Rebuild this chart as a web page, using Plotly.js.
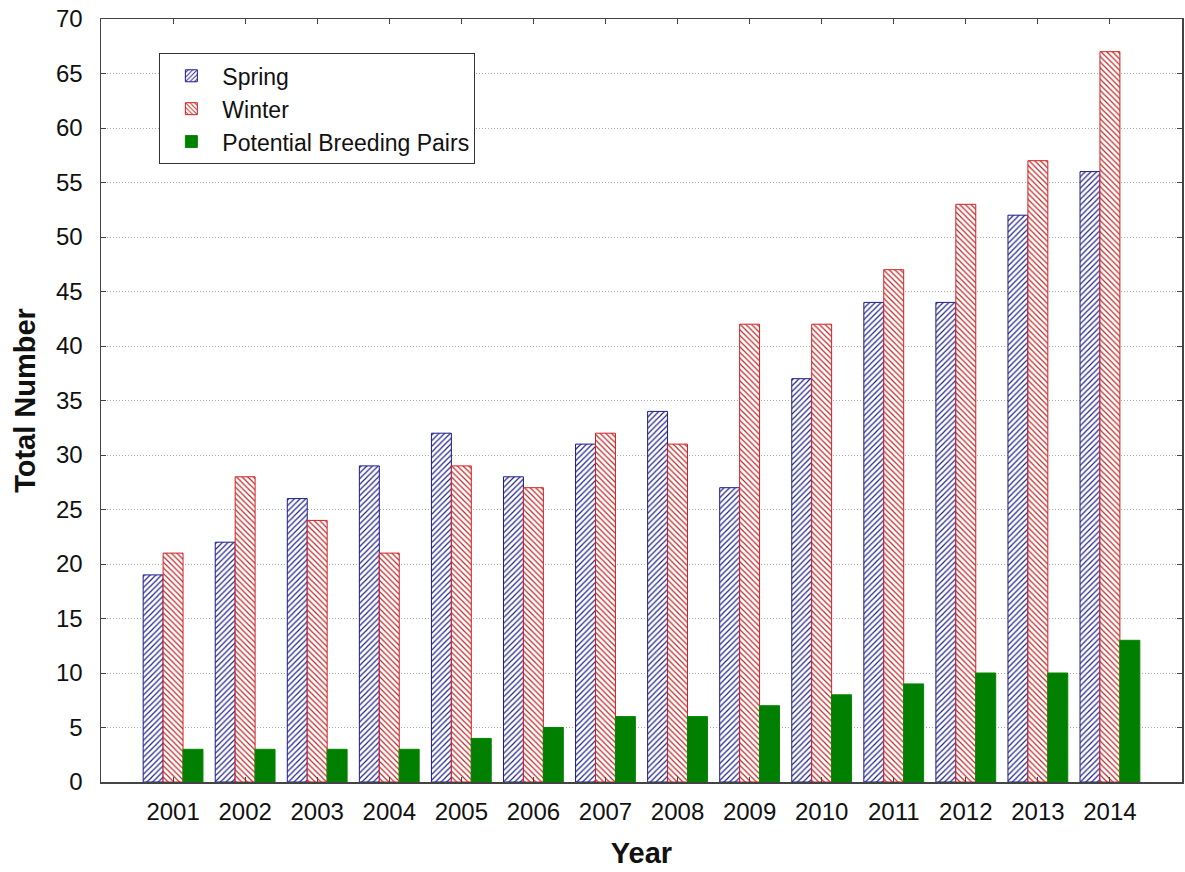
<!DOCTYPE html>
<html>
<head>
<meta charset="utf-8">
<script src="https://cdn.plot.ly/plotly-3.0.1.min.js"></script>
<style>body{margin:0;background:#fff;}#chart{width:1185px;height:872px;}</style>
</head>
<body>
<div id="chart"></div>
<script>
const years = ['2001','2002','2003','2004','2005','2006','2007','2008','2009','2010','2011','2012','2013','2014'];
const spring = [19,22,26,29,32,28,31,34,27,37,44,44,52,56];
const winter = [21,28,24,21,29,27,32,31,42,42,47,53,57,67];
const breeding = [3,3,3,3,4,5,6,6,7,8,9,10,10,13];
const yTicks = [0,5,10,15,20,25,30,35,40,45,50,55,60,65,70];

const traces = [
  {type:'bar', name:'Spring', x:years, y:spring,
   marker:{color:'#ffffff', line:{color:'#1c1c8c', width:1},
     pattern:{shape:'/', fgcolor:'#24248a', bgcolor:'#ffffff', size:4, solidity:0.3}}},
  {type:'bar', name:'Winter', x:years, y:winter,
   marker:{color:'#ffffff', line:{color:'#d42020', width:1},
     pattern:{shape:'\\', fgcolor:'#c02828', bgcolor:'#ffffff', size:4, solidity:0.3}}},
  {type:'bar', name:'Potential Breeding Pairs', x:years, y:breeding,
   marker:{color:'#007f00', line:{color:'#008800', width:1}}}
];

const layout = {
  width:1185, height:872,
  margin:{l:101, r:3, t:19, b:90},
  paper_bgcolor:'#fff', plot_bgcolor:'#fff',
  font:{family:'Liberation Sans, Arial, sans-serif', color:'#111', size:24},
  barmode:'group', bargap:0.17, bargroupgap:0,
  showlegend:true,
  legend:{x:0.054, y:0.955, xanchor:'left', yanchor:'top',
    bordercolor:'#333', borderwidth:1, bgcolor:'#fff',
    font:{size:23, color:'#111'}, tracegroupgap:0, itemwidth:52},
  xaxis:{type:'category', range:[-1,14], showline:true, linecolor:'#444', linewidth:1.5,
    mirror:'ticks', ticks:'inside', ticklen:5, tickcolor:'#444',
    showgrid:false, tickfont:{size:24}, ticklabelstandoff:8,
    title:{text:'Year', font:{size:29, weight:'bold'}, standoff:18}},
  yaxis:{range:[0,70], tickvals:yTicks, showline:true, linecolor:'#444', linewidth:1.5,
    mirror:'ticks', ticks:'inside', ticklen:5, tickcolor:'#444',
    showgrid:true, gridcolor:'#aaaaaa', griddash:'1px,2px', gridwidth:1,
    zeroline:false, tickfont:{size:24}, ticklabelstandoff:12,
    title:{text:'Total Number', font:{size:29, weight:'bold'}, standoff:12}}
};

Plotly.newPlot('chart', traces, layout, {displayModeBar:false, staticPlot:true});
</script>
</body>
</html>
